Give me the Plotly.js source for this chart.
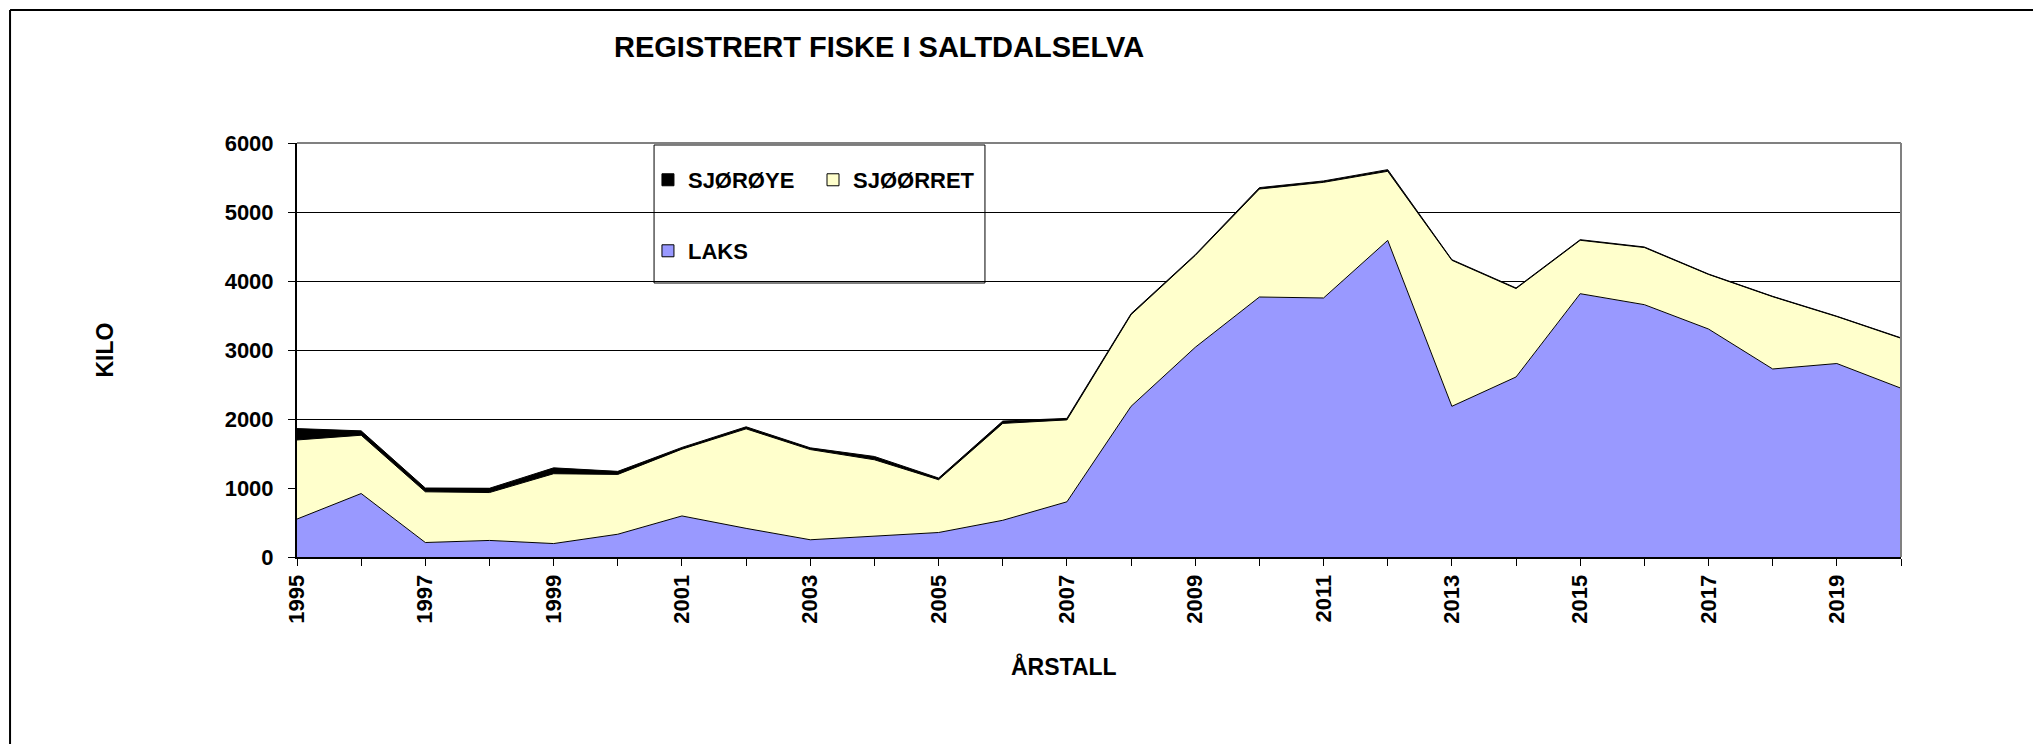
<!DOCTYPE html>
<html>
<head>
<meta charset="utf-8">
<script src="https://cdn.plot.ly/plotly-3.0.1.min.js"></script>
<style>html,body{margin:0;padding:0;background:#fff;}#chart{width:2033px;height:744px;}</style>
</head>
<body>
<div id="chart"></div>
<script>
// ---- data (kilo per year) ----
const years = [1995,1996,1997,1998,1999,2000,2001,2002,2003,2004,2005,2006,2007,2008,2009,2010,2011,2012,2013,2014,2015,2016,2017,2018,2019,2020];
const laks = [550,920,210,240,195,330,595,415,250,305,355,532,800,2184,3039,3768,3754,4589,2184,2609,3816,3657,3304,2725,2804,2446];
const sjoorret = [1146,845,735,694,1012,867,968,1442,1307,1104,765,1404,1187,1328,1331,1565,1676,1001,2116,1281,774,828,791,1047,680,724];
const sjoroye = [165,63,55,62,85,44,25,30,25,48,24,34,22,15,12,20,20,24,9,9,9,8,6,6,6,6];
const xTickVals = [1995,1997,1999,2001,2003,2005,2007,2009,2011,2013,2015,2017,2019];
const xTickText = ['1995','1997','1999','2001','2003','2005','2007','2009','2011','2013','2015','2017','2019'];

const FONT = 'Liberation Sans, Arial, Helvetica, sans-serif';
const COL_LAKS = '#9999FF', COL_SJOORRET = '#FFFFCC', COL_SJOROYE = '#000000';

const areaLine = {color:'#000000', width:1};
const traces = [
  {type:'scatter', mode:'lines', x:years, y:laks, name:'LAKS', stackgroup:'one',
   fillcolor:COL_LAKS, line:areaLine, showlegend:false},
  {type:'scatter', mode:'lines', x:years, y:sjoorret, name:'SJØØRRET', stackgroup:'one',
   fillcolor:COL_SJOORRET, line:areaLine, showlegend:false},
  {type:'scatter', mode:'lines', x:years, y:sjoroye, name:'SJØRØYE', stackgroup:'one',
   fillcolor:COL_SJOROYE, line:areaLine, showlegend:false},
  // legend swatches only (no drawn bars)
  {type:'bar', x:[years[0]], y:[null], name:'SJØRØYE', showlegend:true, marker:{color:COL_SJOROYE, line:{color:'#000', width:1}}, legend:'legend'},
  {type:'bar', x:[years[0]], y:[null], name:'SJØØRRET', showlegend:true, marker:{color:COL_SJOORRET, line:{color:'#000', width:1}}, legend:'legend2'},
  {type:'bar', x:[years[0]], y:[null], name:'LAKS', showlegend:true, marker:{color:COL_LAKS, line:{color:'#000', width:1}}, legend:'legend3'}
];

const legFont = {family:FONT, size:22, color:'#000', weight:700};
const legBase = {font:legFont, bgcolor:'rgba(0,0,0,0)', borderwidth:0, xanchor:'left', yanchor:'top', orientation:'v', visible:true};

const layout = {
  width:2033, height:744,
  margin:{l:297, r:132, t:143, b:187, pad:0},
  paper_bgcolor:'#ffffff', plot_bgcolor:'#ffffff',
  font:{family:FONT, color:'#000'},
  title:{text:'REGISTRERT FISKE I SALTDALSELVA', font:{family:FONT, size:29, color:'#000', weight:700},
         xref:'container', yref:'container', x:0.4324, y:0.9368, xanchor:'center', yanchor:'middle'},
  xaxis:{type:'linear', range:[1995,2020], tickmode:'array', tickvals:xTickVals, ticktext:xTickText,
         ticks:'outside', ticklen:7, tickcolor:'#000', tickwidth:1, tickangle:-90,
         tickfont:{family:FONT, size:22, color:'#000', weight:700},
         minor:{tickmode:'linear', tick0:1995, dtick:1, ticks:'outside', ticklen:7, tickcolor:'#000', tickwidth:1, showgrid:false},
         showgrid:false, zeroline:false, showline:true, linecolor:'#000', linewidth:2},
  yaxis:{range:[0,6000], tickmode:'linear', tick0:0, dtick:1000,
         ticks:'outside', ticklen:7, tickcolor:'#000', tickwidth:1, ticklabelstandoff:10,
         tickfont:{family:FONT, size:22, color:'#000', weight:700},
         showgrid:true, gridcolor:'#000', gridwidth:1, zeroline:false,
         showline:true, linecolor:'#000', linewidth:2,
         title:{text:'KILO', font:{family:FONT, size:23, color:'#000', weight:700}, standoff:105}},
  annotations:[
    {text:'ÅRSTALL', xref:'paper', yref:'paper', x:0.4782, y:-0.2633, xanchor:'center', yanchor:'middle',
     showarrow:false, font:{family:FONT, size:23, color:'#000', weight:700}}
  ],
  legend: Object.assign({}, legBase, {x:0.2188, y:0.9614}),
  legend2: Object.assign({}, legBase, {x:0.3217, y:0.9614}),
  legend3: Object.assign({}, legBase, {x:0.2188, y:0.7899}),
  shapes:[
    {type:'line', xref:'paper', yref:'paper', x0:0, x1:1, y0:1, y1:1, line:{color:'#808080', width:2}, layer:'above'},
    {type:'line', xref:'paper', yref:'paper', x0:1, x1:1, y0:0, y1:1, line:{color:'#808080', width:2}, layer:'above'},
    {type:'rect', xref:'paper', yref:'paper', x0:0.2226, x1:0.4289, y0:0.6618, y1:0.9952, line:{color:'#000', width:1}, fillcolor:'rgba(0,0,0,0)', layer:'above'},
    {type:'line', xref:'paper', yref:'paper', x0:-0.1789, x1:1.10, y0:1.3213, y1:1.3213, line:{color:'#000', width:2}, layer:'above'},
    {type:'line', xref:'paper', yref:'paper', x0:-0.1789, x1:-0.1789, y0:-0.5, y1:1.3213, line:{color:'#000', width:2}, layer:'above'}
  ],
  hovermode:false,
  showlegend:true
};

Plotly.newPlot('chart', traces, layout, {displayModeBar:false, staticPlot:true});
</script>
</body>
</html>
